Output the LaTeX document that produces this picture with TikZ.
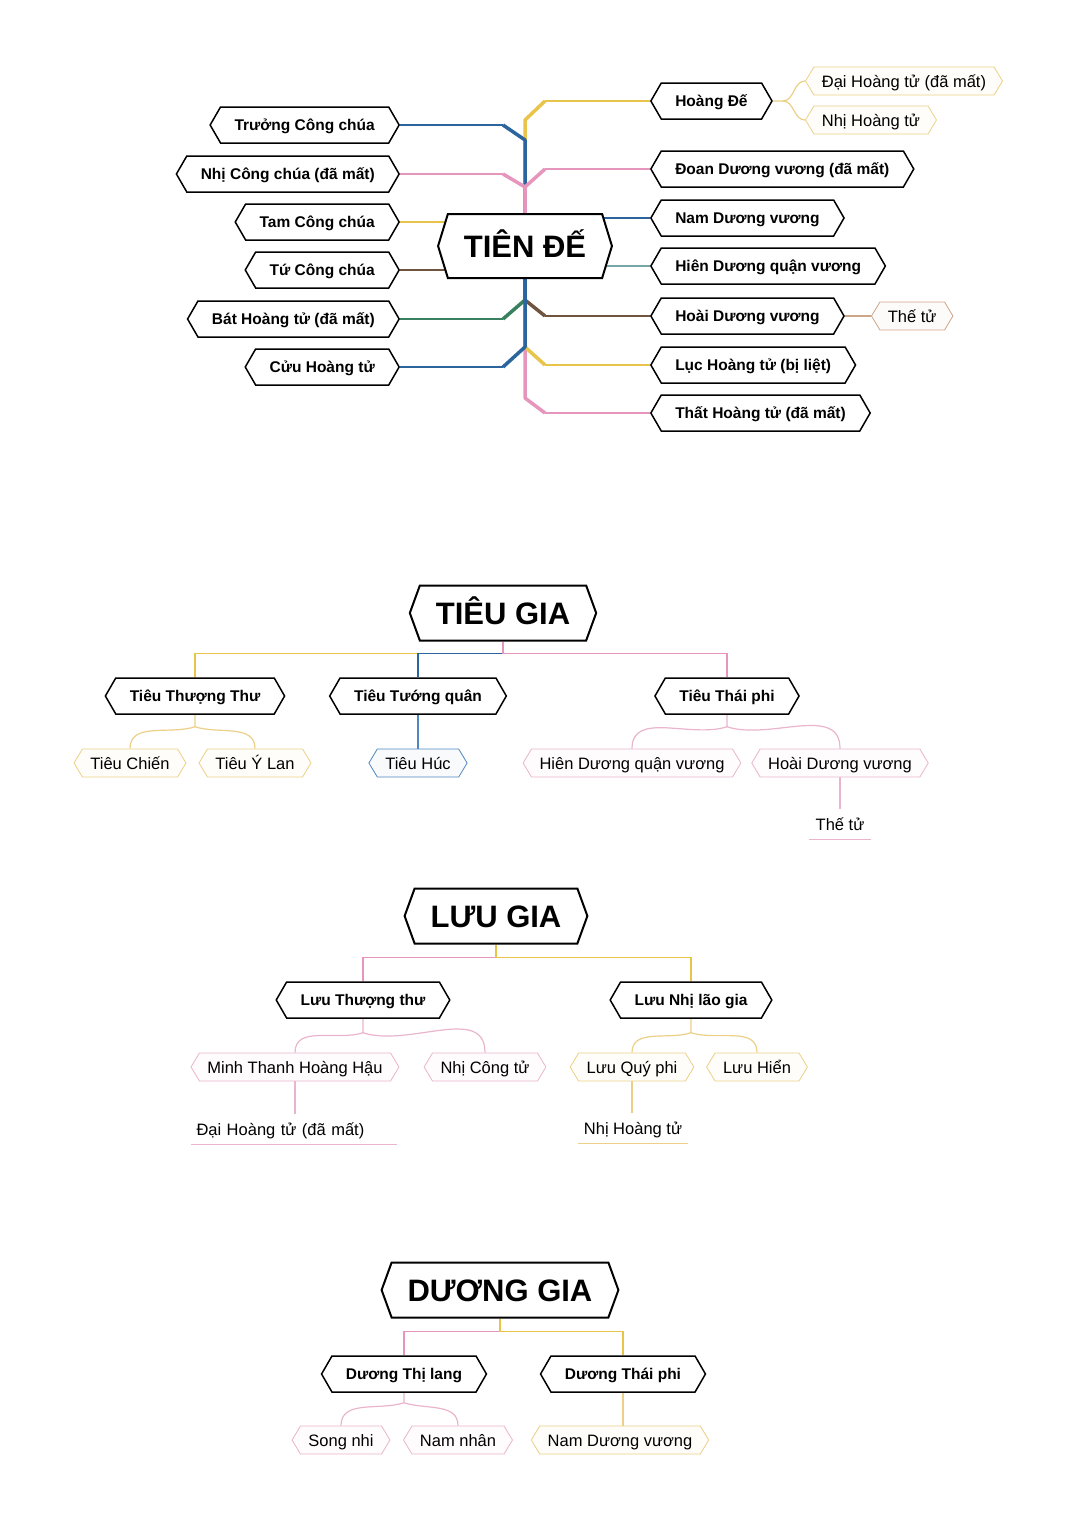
\documentclass[tikz,border=0pt]{standalone}
\usepackage{fontspec}
\setmainfont{Liberation Sans}
\usetikzlibrary{shapes.symbols,backgrounds}

\definecolor{cY}{RGB}{233,196,74}
\definecolor{cB}{RGB}{44,100,158}
\definecolor{cP}{RGB}{230,150,188}
\definecolor{cG}{RGB}{56,128,96}
\definecolor{cN}{RGB}{112,84,64}
\definecolor{cT}{RGB}{120,165,165}
\definecolor{lY}{RGB}{236,208,135}
\definecolor{lP}{RGB}{234,180,204}
\definecolor{lB}{RGB}{80,135,190}
\definecolor{lN}{RGB}{205,165,135}

\tikzset{
 topic/.style={signal, signal to=east and west, signal pointer angle=120, draw=black, line width=1.5, fill=white, inner xsep=14, inner ysep=0, minimum height=36, text height=11, text depth=0, font=\bfseries\fontsize{15.5}{18}\selectfont},
 title/.style={topic, line width=2, inner xsep=16, minimum height=55, signal pointer angle=140, text height=22, font=\bfseries\fontsize{31}{36}\selectfont},
 leaf/.style={signal, signal to=east and west, signal pointer angle=118, draw=#1, line width=0.8, fill=#1!4, inner xsep=8, inner ysep=0, minimum height=28, text height=12, text depth=0, font=\fontsize{16.5}{19}\selectfont},
 uline/.style={inner xsep=6, inner ysep=0, minimum height=30, text height=12, text depth=0, font=\fontsize{16.5}{19}\selectfont},
 stem/.style={line width=3.5, line join=round},
 twig/.style={line width=1.2},
 link/.style={line width=1.8},
}

\begin{document}
\begin{tikzpicture}[x=1pt,y=-1pt]
 \useasboundingbox (0,0) rectangle (1080,1523);

 % TIEN DE
 \node[title, minimum height=64, signal pointer angle=146] (td) at (525,246) {TIÊN ĐẾ};
 \node[topic, anchor=east] (tcc) at (400,125) {Trưởng Công chúa};
 \node[topic, anchor=east] (ncc) at (400,174) {Nhị Công chúa (đã mất)};
 \node[topic, anchor=east] (tam) at (400,222) {Tam Công chúa};
 \node[topic, anchor=east] (tu) at (400,270) {Tứ Công chúa};
 \node[topic, anchor=east] (bat) at (400,319) {Bát Hoàng tử (đã mất)};
 \node[topic, anchor=east] (cuu) at (400,367) {Cửu Hoàng tử};
 \node[topic, anchor=west] (hd) at (650,101) {Hoàng Đế};
 \node[topic, anchor=west] (dd) at (650,169) {Đoan Dương vương (đã mất)};
 \node[topic, anchor=west] (nd) at (650,218) {Nam Dương vương};
 \node[topic, anchor=west] (hq) at (650,266) {Hiên Dương quận vương};
 \node[topic, anchor=west] (hdv) at (650,316) {Hoài Dương vương};
 \node[topic, anchor=west] (luc) at (650,365) {Lục Hoàng tử (bị liệt)};
 \node[topic, anchor=west] (tht) at (650,413) {Thất Hoàng tử (đã mất)};
 \node[leaf=lY, anchor=west] (dh1) at (805,81) {Đại Hoàng tử (đã mất)};
 \node[leaf=lY, anchor=west] (nh1) at (805,120) {Nhị Hoàng tử};
 \node[leaf=lN, anchor=west] (ttz) at (871,316) {Thế tử};

 % TIEU GIA
 \node[title] (tg) at (503,613) {TIÊU GIA};
 \node[topic] (tth) at (195,696) {Tiêu Thượng Thư};
 \node[topic] (ttq) at (418,696) {Tiêu Tướng quân};
 \node[topic] (ttp) at (727,696) {Tiêu Thái phi};
 \node[leaf=lY] (tc) at (130,763) {Tiêu Chiến};
 \node[leaf=lY] (tyl) at (255,763) {Tiêu Ý Lan};
 \node[leaf=lB] (th) at (418,763) {Tiêu Húc};
 \node[leaf=lP] (hq2) at (632,763) {Hiên Dương quận vương};
 \node[leaf=lP] (hdv2) at (840,763) {Hoài Dương vương};
 \node[uline] (tt2) at (840,824) {Thế tử};

 % LUU GIA
 \node[title] (lg) at (496,916) {LƯU GIA};
 \node[topic] (lth) at (363,1000) {Lưu Thượng thư};
 \node[topic] (lnl) at (691,1000) {Lưu Nhị lão gia};
 \node[leaf=lP] (mt) at (295,1067) {Minh Thanh Hoàng Hậu};
 \node[leaf=lP] (nct) at (485,1067) {Nhị Công tử};
 \node[leaf=lY] (lqp) at (632,1067) {Lưu Quý phi};
 \node[leaf=lY] (lh) at (757,1067) {Lưu Hiển};
 \node[uline, text width=195, align=left, inner xsep=5] (dht) at (294,1129) {Đại Hoàng tử (đã mất)};
 \node[uline] (nh2) at (633,1128) {Nhị Hoàng tử};

 % DUONG GIA
 \node[title] (dg) at (500,1290) {DƯƠNG GIA};
 \node[topic] (dtl) at (404,1374) {Dương Thị lang};
 \node[topic] (dtp) at (623,1374) {Dương Thái phi};
 \node[leaf=lP] (sn) at (341,1440) {Song nhi};
 \node[leaf=lP] (nn) at (458,1440) {Nam nhân};
 \node[leaf=lY] (ndv) at (620,1440) {Nam Dương vương};

 \begin{scope}[on background layer]
 % trunk above
 \draw[stem,cY] (td.north) -- ([yshift=-19]td.north |- hd.west) -- ([xshift=20]td.north |- hd.west);
 \draw[twig,cY] ([xshift=20]td.north |- hd.west) -- (hd.west);
 \draw[stem,cB] (td.north) -- ([yshift=-15]td.north |- tcc.east) -- ([xshift=-22]td.north |- tcc.east);
 \draw[twig,cB] ([xshift=-22]td.north |- tcc.east) -- (tcc.east);
 \draw[stem,cP] (td.north) -- ([yshift=-13]td.north |- ncc.east) -- ([xshift=-22]td.north |- ncc.east);
 \draw[twig,cP] ([xshift=-22]td.north |- ncc.east) -- (ncc.east);
 \draw[stem,cP] (td.north) -- ([yshift=-18]td.north |- dd.west) -- ([xshift=20]td.north |- dd.west);
 \draw[twig,cP] ([xshift=20]td.north |- dd.west) -- (dd.west);
 % straight ones
 \draw[twig,cY] (tam.east) -- (tam.east -| td.center);
 \draw[twig,cN] (tu.east) -- (tu.east -| td.center);
 \draw[twig,cB] (nd.west) -- (nd.west -| td.center);
 \draw[twig,cT] (hq.west) -- (hq.west -| td.center);
 % trunk below
 \draw[stem,cP] (td.south) -- ([yshift=15]td.south |- tht.west) -- ([xshift=20]td.south |- tht.west);
 \draw[twig,cP] ([xshift=20]td.south |- tht.west) -- (tht.west);
 \draw[stem,cY] (td.south) -- ([yshift=18]td.south |- luc.west) -- ([xshift=20]td.south |- luc.west);
 \draw[twig,cY] ([xshift=20]td.south |- luc.west) -- (luc.west);
 \draw[stem,cN] (td.south) -- ([yshift=16]td.south |- hdv.west) -- ([xshift=20]td.south |- hdv.west);
 \draw[twig,cN] ([xshift=20]td.south |- hdv.west) -- (hdv.west);
 \draw[stem,cG] (td.south) -- ([yshift=19]td.south |- bat.east) -- ([xshift=-22]td.south |- bat.east);
 \draw[twig,cG] ([xshift=-22]td.south |- bat.east) -- (bat.east);
 \draw[stem,cB] (td.south) -- ([yshift=20]td.south |- cuu.east) -- ([xshift=-22]td.south |- cuu.east);
 \draw[twig,cB] ([xshift=-22]td.south |- cuu.east) -- (cuu.east);
 % sub branches
 \draw[twig,lY] (hd.east) -- ++(10,0) coordinate (hdk) to[out=0,in=180] (dh1.west);
 \draw[twig,lY] (hdk) to[out=0,in=180] (nh1.west);
 \draw[twig,lN] (hdv.east) -- (ttz.west);

 % tieu gia
 \draw[link,cY] (tg.south) -- ++(0,12) -| (tth.north);
 \draw[link,cB] (tg.south) -- ++(0,12) -| (ttq.north);
 \draw[link,cP] (tg.south) -- ++(0,12) -| (ttp.north);
 \draw[twig,lY] (tth.south) -- ++(0,12) coordinate (k1) to[out=198,in=90] (tc.north);
 \draw[twig,lY] (k1) to[out=-18,in=90] (tyl.north);
 \draw[twig,lB] (ttq.south) -- (th.north);
 \draw[twig,lP] (ttp.south) -- ++(0,12) coordinate (k2) to[out=198,in=90] (hq2.north);
 \draw[twig,lP] (k2) to[out=-18,in=90] (hdv2.north);
 \draw[twig,lP] (hdv2.south) -- (tt2.north);
 \draw[twig,lP] (tt2.south west) -- (tt2.south east);

 % luu gia
 \draw[link,cP] (lg.south) -- ++(0,13) -| (lth.north);
 \draw[link,cY] (lg.south) -- ++(0,13) -| (lnl.north);
 \draw[twig,lP] (lth.south) -- ++(0,14) coordinate (k3) to[out=198,in=90] (mt.north);
 \draw[twig,lP] (k3) to[out=-18,in=90] (nct.north);
 \draw[twig,lY] (lnl.south) -- ++(0,14) coordinate (k4) to[out=198,in=90] (lqp.north);
 \draw[twig,lY] (k4) to[out=-18,in=90] (lh.north);
 \draw[twig,lP] (mt.south) -- (mt.south |- dht.north);
 \draw[twig,lP] (dht.south west) -- (dht.south east);
 \draw[twig,lY] (lqp.south) -- (lqp.south |- nh2.north);
 \draw[twig,lY] (nh2.south west) -- (nh2.south east);

 % duong gia
 \draw[link,cP] (dg.south) -- ++(0,13) -| (dtl.north);
 \draw[link,cY] (dg.south) -- ++(0,13) -| (dtp.north);
 \draw[twig,lP] (dtl.south) -- ++(0,10) coordinate (k5) to[out=198,in=90] (sn.north);
 \draw[twig,lP] (k5) to[out=-18,in=90] (nn.north);
 \draw[twig,lY] (dtp.south) -- (dtp.south |- ndv.north);
 \end{scope}
\end{tikzpicture}
\end{document}
